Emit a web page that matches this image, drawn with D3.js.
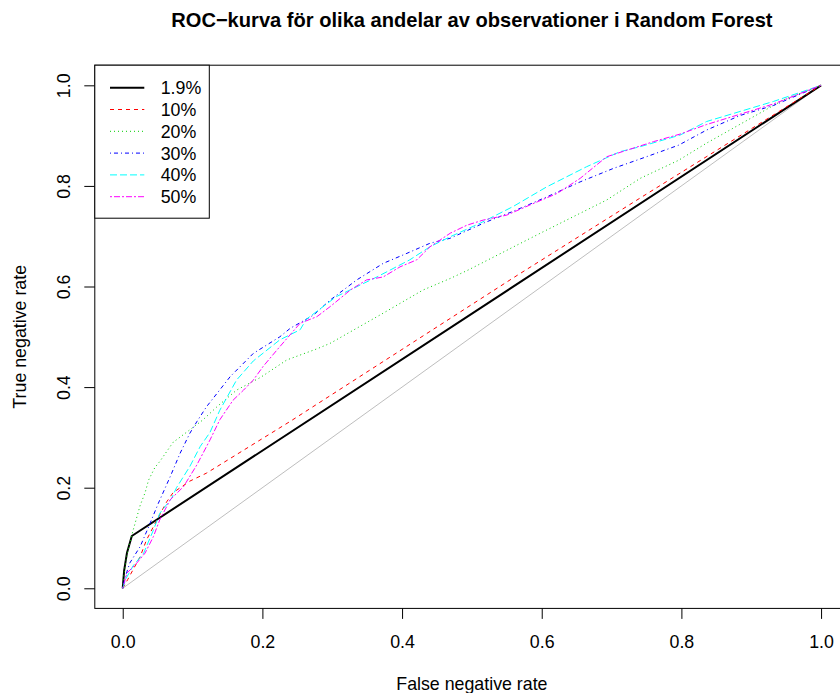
<!DOCTYPE html>
<html>
<head>
<meta charset="utf-8">
<script src="https://cdn.jsdelivr.net/npm/d3@7/dist/d3.min.js"></script>
<style>
  body { margin: 0; background: #fff; }
  svg { font-family: "Liberation Sans", Arial, Helvetica, sans-serif; }
</style>
</head>
<body>
<main></main>
<script>
var w = 840;
var h = 693;
var fs = "17.8px";

// ROC points [false negative rate, true negative rate]
var roc19 = [[0,0],[0.002,0.035],[0.006,0.07],[0.013,0.104],[1,1]];
var roc10 = [[0,0],[0.007,0.017],[0.016,0.04],[0.025,0.063],[0.034,0.096],[0.049,0.136],[0.063,0.172],
  [0.072,0.19],[0.096,0.213],[0.12,0.229],[0.24,0.332],[0.559,0.617],[0.741,0.776],[1,1]];
var roc20 = [[0,0],[0.001,0.02],[0.005,0.06],[0.01,0.09],[0.015,0.116],[0.025,0.165],[0.032,0.19],
  [0.037,0.215],[0.046,0.24],[0.053,0.252],[0.072,0.29],[0.096,0.315],[0.115,0.335],[0.135,0.361],
  [0.163,0.394],[0.197,0.419],[0.235,0.454],[0.278,0.476],[0.297,0.487],[0.373,0.547],[0.43,0.593],
  [0.469,0.616],[0.495,0.633],[0.598,0.706],[0.693,0.772],[0.741,0.815],[0.796,0.851],[0.836,0.885],
  [0.946,0.971],[1,1]];
var roc30 = [[0,0],[0.003,0.02],[0.01,0.05],[0.025,0.083],[0.037,0.122],[0.051,0.169],[0.068,0.222],
  [0.082,0.268],[0.096,0.308],[0.106,0.331],[0.12,0.361],[0.154,0.421],[0.187,0.467],[0.225,0.5],
  [0.24,0.517],[0.273,0.543],[0.297,0.573],[0.335,0.613],[0.373,0.646],[0.407,0.666],[0.44,0.686],
  [0.469,0.696],[0.52,0.728],[0.56,0.75],[0.607,0.778],[0.655,0.808],[0.703,0.835],[0.75,0.858],
  [0.796,0.881],[0.836,0.911],[0.884,0.94],[0.932,0.96],[1,1]];
var roc40 = [[0,0],[0.005,0.02],[0.015,0.045],[0.03,0.07],[0.044,0.116],[0.053,0.149],[0.07,0.179],
  [0.077,0.2],[0.096,0.242],[0.111,0.282],[0.125,0.31],[0.139,0.354],[0.163,0.414],[0.187,0.452],
  [0.225,0.494],[0.254,0.514],[0.263,0.535],[0.306,0.58],[0.364,0.619],[0.411,0.653],[0.44,0.679],
  [0.469,0.699],[0.512,0.726],[0.559,0.759],[0.607,0.798],[0.664,0.838],[0.712,0.868],[0.741,0.878],
  [0.798,0.901],[0.836,0.928],[0.932,0.968],[1,1]];
var roc50 = [[0,0],[0.006,0.03],[0.02,0.05],[0.032,0.07],[0.044,0.103],[0.053,0.136],[0.068,0.176],
  [0.087,0.202],[0.106,0.245],[0.125,0.295],[0.139,0.335],[0.158,0.374],[0.173,0.394],[0.187,0.414],
  [0.201,0.441],[0.221,0.474],[0.254,0.527],[0.278,0.54],[0.297,0.56],[0.326,0.593],[0.349,0.613],
  [0.373,0.619],[0.397,0.639],[0.421,0.653],[0.44,0.679],[0.469,0.706],[0.493,0.722],[0.516,0.732],
  [0.55,0.742],[0.583,0.762],[0.622,0.785],[0.655,0.815],[0.693,0.858],[0.722,0.871],[0.76,0.888],
  [0.798,0.903],[0.836,0.922],[0.932,0.963],[1,1]];
var diagonal = [[0,0],[1,1]];

var labels = ["1.9%", "10%", "20%", "30%", "40%", "50%"];
var tickValues = [0, 0.2, 0.4, 0.6, 0.8, 1.0];

// R style lines: colour, dash, width
var styles = [
  { col: "#000000", dash: null, lw: 2 },
  { col: "#FF0000", dash: "4,4", lw: 1 },
  { col: "#00CD00", dash: "1,3", lw: 1 },
  { col: "#0000FF", dash: "1,3,4,3", lw: 1 },
  { col: "#00FFFF", dash: "7,3", lw: 1 },
  { col: "#FF00FF", dash: "2,2,6,2", lw: 1 }
];
var series = [roc19, roc10, roc20, roc30, roc40, roc50];

// plot region (window.top is reserved, so other names)
var pLeft = 94.8, pRight = 849, pTop = 65.2, pBottom = 608.4;

var svg = d3.select("main").append("svg").attr("width", w).attr("height", h);

// scales (R pads the range by 4%)
var xScale = d3.scaleLinear().domain([-0.04, 1.04]).range([pLeft, pRight]);
var yScale = d3.scaleLinear().domain([-0.04, 1.04]).range([pBottom, pTop]);

var line = d3.line()
  .x(function (d) { return xScale(d[0]); })
  .y(function (d) { return yScale(d[1]); });

// grey reference diagonal
svg.append("path")
  .datum(diagonal)
  .attr("d", line)
  .attr("fill", "none")
  .attr("stroke", "#BEBEBE")
  .attr("stroke-width", 1);

// ROC lines
series.forEach(function (s, i) {
  svg.append("path")
    .datum(s)
    .attr("d", line)
    .attr("fill", "none")
    .attr("stroke", styles[i].col)
    .attr("stroke-width", styles[i].lw)
    .attr("stroke-dasharray", styles[i].dash)
    .attr("stroke-linejoin", "round");
});

// box
svg.append("rect")
  .attr("x", pLeft).attr("y", pTop)
  .attr("width", pRight - pLeft).attr("height", pBottom - pTop)
  .attr("fill", "none").attr("stroke", "#000");

// AXES
var xAxis = d3.axisBottom(xScale).tickValues(tickValues)
  .tickFormat(d3.format(".1f")).tickSize(10.5).tickPadding(0);
var gx = svg.append("g")
  .attr("transform", "translate(0," + pBottom + ")")
  .call(xAxis);
gx.select(".domain").remove();
gx.selectAll("line").attr("stroke", "#000");
gx.selectAll("text")
  .attr("y", 647.8 - pBottom).attr("dy", null)
  .attr("font-size", fs).attr("fill", "#000").attr("font-family", null);

var yAxis = d3.axisLeft(yScale).tickValues(tickValues)
  .tickFormat(d3.format(".1f")).tickSize(10.5);
var gy = svg.append("g")
  .attr("transform", "translate(" + pLeft + ",0)")
  .call(yAxis);
gy.select(".domain").remove();
gy.selectAll("line").attr("stroke", "#000");
gy.selectAll("text")
  .attr("x", null).attr("dy", null)
  .attr("font-size", fs).attr("fill", "#000").attr("font-family", null)
  .attr("text-anchor", "middle")
  .attr("transform", "translate(" + (70 - pLeft) + ",0) rotate(-90)");

// TITLES
svg.append("text")
  .attr("x", (pLeft + pRight) / 2).attr("y", 26.7)
  .attr("text-anchor", "middle")
  .attr("font-size", "20.1px").attr("font-weight", "bold")
  .text("ROC\u2212kurva för olika andelar av observationer i Random Forest");

svg.append("text")
  .attr("x", (pLeft + pRight) / 2).attr("y", 690)
  .attr("text-anchor", "middle")
  .attr("font-size", fs)
  .text("False negative rate");

svg.append("text")
  .attr("transform", "translate(25.5," + ((pTop + pBottom) / 2) + ") rotate(-90)")
  .attr("text-anchor", "middle")
  .attr("font-size", fs)
  .text("True negative rate");

// LEGEND
var legend = svg.append("g");
legend.append("rect")
  .attr("x", pLeft).attr("y", pTop)
  .attr("width", 114.5).attr("height", 153)
  .attr("fill", "#fff").attr("stroke", "#000");
labels.forEach(function (lab, i) {
  var ly = 87.7 + i * 21.8;
  legend.append("line")
    .attr("x1", 110).attr("x2", 144.3)
    .attr("y1", ly).attr("y2", ly)
    .attr("stroke", styles[i].col)
    .attr("stroke-width", styles[i].lw)
    .attr("stroke-dasharray", styles[i].dash);
  legend.append("text")
    .attr("x", 160.7).attr("y", ly + 6.4)
    .attr("font-size", fs)
    .text(lab);
});
</script>
</body>
</html>
